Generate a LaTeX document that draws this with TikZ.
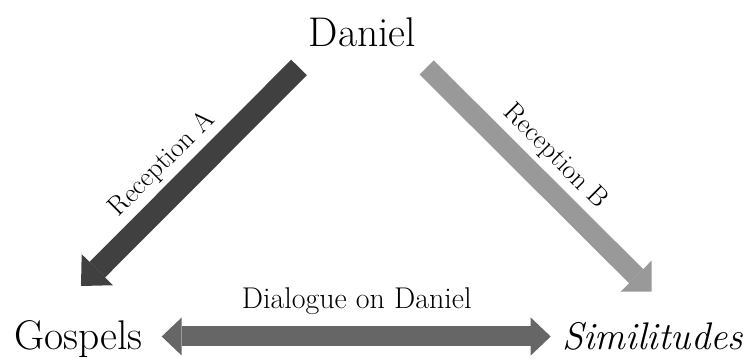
\documentclass[tikz,border=0pt]{standalone}
\usepackage{fontspec}
\usetikzlibrary{arrows.meta}
\definecolor{darkA}{HTML}{404040}
\definecolor{lightB}{HTML}{999999}
\definecolor{midD}{HTML}{666666}
\begin{document}
\begin{tikzpicture}[x=1pt,y=1pt,
  big/.style={inner sep=0pt,font=\fontsize{40}{44}\selectfont},
  lab/.style={inner sep=0pt,font=\fontsize{27.5}{30}\selectfont},
  fat/.style={line cap=butt}]
\useasboundingbox (0,0) rectangle (747,358);
% main nodes
\node[big,anchor=base,font=\fontsize{41.5}{45}\selectfont] (daniel) at (362.5,311.3) {Daniel};
\node[big,anchor=base,font=\fontsize{41.5}{45}\selectfont] (gospels) at (78.3,8) {Gospels};
\node[big,anchor=base,font=\fontsize{38.5}{42}\selectfont\itshape] (simil) at (652.5,8) {Similitudes};
% arrow ends
\coordinate (aTail) at (299,290.5);
\coordinate (aTip) at (81,72);
\coordinate (bTail) at (426.7,290.5);
\coordinate (bTip) at (651.7,66.3);
\coordinate (dL) at (161.7,21.5);
\coordinate (dR) at (550.7,21.5);
% arrows
\draw[fat,darkA,line width=22pt,-{Triangle[length=23pt,width=44pt,line width=0pt]}] (aTail) -- (aTip);
\draw[fat,lightB,line width=20pt,-{Triangle[length=22pt,width=44pt,line width=0pt]}] (bTail) -- (bTip);
\draw[fat,midD,line width=20pt,{Triangle[length=20pt,width=38pt,line width=0pt]}-{Triangle[length=20pt,width=38pt,line width=0pt]}] (dL) -- (dR);
% labels
\node[lab,anchor=base,rotate=45] (recA) at (167.2,188.6) {Reception A};
\node[lab,anchor=base,rotate=-45] (recB) at (550.4,196.4) {Reception B};
\node[lab,anchor=base,font=\fontsize{30}{33}\selectfont] (dialog) at (356.7,49.7) {Dialogue on Daniel};
\end{tikzpicture}
\end{document}
